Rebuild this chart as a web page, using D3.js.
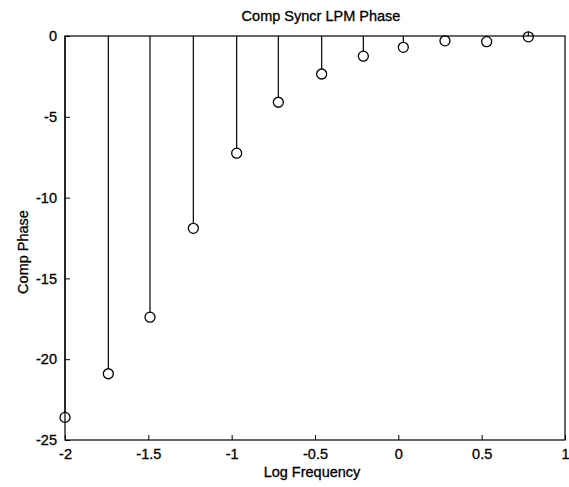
<!DOCTYPE html>
<html><head><meta charset="utf-8">
<script src="https://cdn.jsdelivr.net/npm/d3@7"></script>
<style>body{margin:0;background:#fff}svg{display:block}text{font-family:"Liberation Sans",Arial,sans-serif;fill:#000}</style>
</head><body>
<svg id="c" width="569" height="487"></svg>
<script>
const logFreq = [-2, -1.74, -1.49, -1.23, -0.97, -0.72, -0.46, -0.21, 0.03, 0.28, 0.53, 0.78];
const phase = [-23.6, -20.9, -17.4, -11.9, -7.25, -4.1, -2.35, -1.25, -0.7, -0.3, -0.35, -0.05];
const xTicks = [-2, -1.5, -1, -0.5, 0, 0.5, 1];
const xTickLabels = ["-2", "-1.5", "-1", "-0.5", "0", "0.5", "1"];
const yTicks = [0, -5, -10, -15, -20, -25];
const yTickLabels = ["0", "-5", "-10", "-15", "-20", "-25"];
const titleText = "Comp Syncr LPM Phase";
const xLabel = "Log Frequency";
const yLabel = "Comp Phase";

const svg = d3.select("#c");
const L = 65, R = 565, T = 36, B = 440;
const FS = 14.5;
const x = d3.scaleLinear().domain([-2, 1]).range([L, R]);
const y = d3.scaleLinear().domain([-25, 0]).range([B, T]);

// box
svg.append("rect").attr("x", L).attr("y", T).attr("width", R - L).attr("height", B - T)
  .attr("fill", "none").attr("stroke", "#000").attr("stroke-width", 1.2);

const xAxis = d3.axisBottom(x).tickValues(xTicks).tickFormat((d, i) => xTickLabels[i]).tickSizeInner(-5).tickSizeOuter(0).tickPadding(9);
const gx = svg.append("g").attr("transform", `translate(0,${B})`).call(xAxis);
const yAxis = d3.axisLeft(y).tickValues(yTicks).tickFormat((d, i) => yTickLabels[i]).tickSizeInner(-5).tickSizeOuter(0).tickPadding(8);
const gy = svg.append("g").attr("transform", `translate(${L},0)`).call(yAxis);
[gx, gy].forEach(g => {
  g.select(".domain").remove();
  g.selectAll("line").attr("stroke", "#000").attr("stroke-width", 1);
  g.selectAll("text").attr("font-size", FS).attr("font-family", "'Liberation Sans',Arial,sans-serif")
    .attr("fill", "#000").attr("stroke", "#000").attr("stroke-width", 0.3);
});

// stems
const data = logFreq.map((f, i) => ({f, p: phase[i]}));
svg.append("g").selectAll("line").data(data).join("line")
  .attr("x1", d => x(d.f)).attr("x2", d => x(d.f))
  .attr("y1", y(0)).attr("y2", d => y(d.p) - 5)
  .attr("stroke", "#000").attr("stroke-width", 1.2);
svg.append("g").selectAll("circle").data(data).join("circle")
  .attr("cx", d => x(d.f)).attr("cy", d => y(d.p)).attr("r", 5)
  .attr("fill", "none").attr("stroke", "#000").attr("stroke-width", 1.3);

const lab = (sel) => sel.attr("text-anchor", "middle").attr("font-size", FS)
  .attr("stroke", "#000").attr("stroke-width", 0.3);
svg.append("text").attr("x", 321).attr("y", 21).call(lab).text(titleText);
svg.append("text").attr("x", 312).attr("y", 477).call(lab).text(xLabel);
svg.append("text").attr("transform", `translate(28,252) rotate(-90)`).call(lab).text(yLabel);
</script>
</body></html>
